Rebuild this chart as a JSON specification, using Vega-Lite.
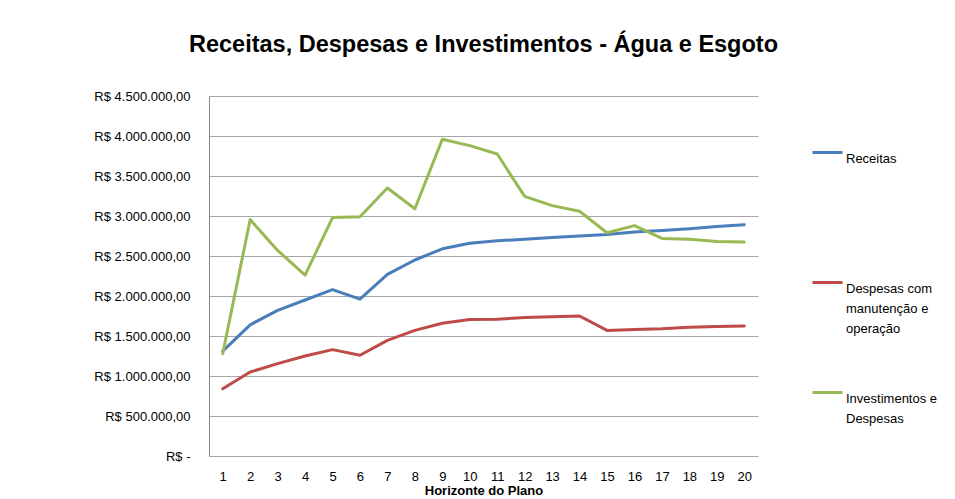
{
  "$schema": "https://vega.github.io/schema/vega-lite/v6.json",
  "autosize": "none",
  "width": 549,
  "height": 360,
  "padding": {"left": 209, "top": 96, "right": 197, "bottom": 43},
  "background": "white",
  "config": {
    "locale": {"number": {"decimal": ",", "thousands": ".", "grouping": [3], "currency": ["R$ ", ""]}},
    "view": {"stroke": null},
    "font": "Liberation Sans",
    "style": {"guide-label": {"lineHeight": 20}}
  },
  "title": {
    "text": "Receitas, Despesas e Investimentos - Água e Esgoto",
    "font": "Liberation Sans",
    "fontSize": 23.5,
    "fontWeight": "bold",
    "color": "#000000",
    "anchor": "middle",
    "offset": 34
  },
  "data": {
    "values": [
      {"ano": 1, "serie": "Receitas", "valor": 1310000},
      {"ano": 2, "serie": "Receitas", "valor": 1640000},
      {"ano": 3, "serie": "Receitas", "valor": 1820000},
      {"ano": 4, "serie": "Receitas", "valor": 1950000},
      {"ano": 5, "serie": "Receitas", "valor": 2080000},
      {"ano": 6, "serie": "Receitas", "valor": 1960000},
      {"ano": 7, "serie": "Receitas", "valor": 2270000},
      {"ano": 8, "serie": "Receitas", "valor": 2450000},
      {"ano": 9, "serie": "Receitas", "valor": 2590000},
      {"ano": 10, "serie": "Receitas", "valor": 2660000},
      {"ano": 11, "serie": "Receitas", "valor": 2690000},
      {"ano": 12, "serie": "Receitas", "valor": 2710000},
      {"ano": 13, "serie": "Receitas", "valor": 2730000},
      {"ano": 14, "serie": "Receitas", "valor": 2750000},
      {"ano": 15, "serie": "Receitas", "valor": 2770000},
      {"ano": 16, "serie": "Receitas", "valor": 2800000},
      {"ano": 17, "serie": "Receitas", "valor": 2820000},
      {"ano": 18, "serie": "Receitas", "valor": 2840000},
      {"ano": 19, "serie": "Receitas", "valor": 2870000},
      {"ano": 20, "serie": "Receitas", "valor": 2890000},
      {"ano": 1, "serie": "Despesas com manutenção e operação", "valor": 840000},
      {"ano": 2, "serie": "Despesas com manutenção e operação", "valor": 1050000},
      {"ano": 3, "serie": "Despesas com manutenção e operação", "valor": 1155000},
      {"ano": 4, "serie": "Despesas com manutenção e operação", "valor": 1250000},
      {"ano": 5, "serie": "Despesas com manutenção e operação", "valor": 1330000},
      {"ano": 6, "serie": "Despesas com manutenção e operação", "valor": 1260000},
      {"ano": 7, "serie": "Despesas com manutenção e operação", "valor": 1445000},
      {"ano": 8, "serie": "Despesas com manutenção e operação", "valor": 1570000},
      {"ano": 9, "serie": "Despesas com manutenção e operação", "valor": 1660000},
      {"ano": 10, "serie": "Despesas com manutenção e operação", "valor": 1705000},
      {"ano": 11, "serie": "Despesas com manutenção e operação", "valor": 1710000},
      {"ano": 12, "serie": "Despesas com manutenção e operação", "valor": 1730000},
      {"ano": 13, "serie": "Despesas com manutenção e operação", "valor": 1740000},
      {"ano": 14, "serie": "Despesas com manutenção e operação", "valor": 1750000},
      {"ano": 15, "serie": "Despesas com manutenção e operação", "valor": 1570000},
      {"ano": 16, "serie": "Despesas com manutenção e operação", "valor": 1580000},
      {"ano": 17, "serie": "Despesas com manutenção e operação", "valor": 1590000},
      {"ano": 18, "serie": "Despesas com manutenção e operação", "valor": 1610000},
      {"ano": 19, "serie": "Despesas com manutenção e operação", "valor": 1620000},
      {"ano": 20, "serie": "Despesas com manutenção e operação", "valor": 1625000},
      {"ano": 1, "serie": "Investimentos e Despesas", "valor": 1280000},
      {"ano": 2, "serie": "Investimentos e Despesas", "valor": 2955000},
      {"ano": 3, "serie": "Investimentos e Despesas", "valor": 2570000},
      {"ano": 4, "serie": "Investimentos e Despesas", "valor": 2260000},
      {"ano": 5, "serie": "Investimentos e Despesas", "valor": 2980000},
      {"ano": 6, "serie": "Investimentos e Despesas", "valor": 2990000},
      {"ano": 7, "serie": "Investimentos e Despesas", "valor": 3350000},
      {"ano": 8, "serie": "Investimentos e Despesas", "valor": 3090000},
      {"ano": 9, "serie": "Investimentos e Despesas", "valor": 3960000},
      {"ano": 10, "serie": "Investimentos e Despesas", "valor": 3880000},
      {"ano": 11, "serie": "Investimentos e Despesas", "valor": 3775000},
      {"ano": 12, "serie": "Investimentos e Despesas", "valor": 3245000},
      {"ano": 13, "serie": "Investimentos e Despesas", "valor": 3130000},
      {"ano": 14, "serie": "Investimentos e Despesas", "valor": 3060000},
      {"ano": 15, "serie": "Investimentos e Despesas", "valor": 2790000},
      {"ano": 16, "serie": "Investimentos e Despesas", "valor": 2880000},
      {"ano": 17, "serie": "Investimentos e Despesas", "valor": 2720000},
      {"ano": 18, "serie": "Investimentos e Despesas", "valor": 2710000},
      {"ano": 19, "serie": "Investimentos e Despesas", "valor": 2680000},
      {"ano": 20, "serie": "Investimentos e Despesas", "valor": 2675000}
    ]
  },
  "mark": {"type": "line", "strokeWidth": 3, "strokeCap": "round", "strokeJoin": "round"},
  "encoding": {
    "x": {
      "field": "ano",
      "type": "ordinal",
      "scale": {"paddingInner": 0, "paddingOuter": 0},
      "axis": {
        "title": "Horizonte do Plano",
        "titleFont": "Liberation Sans",
        "titleFontSize": 13,
        "titleFontWeight": "bold",
        "titleColor": "#000000",
        "titlePadding": 1,
        "labelAngle": 0,
        "labelFontSize": 13,
        "labelColor": "#000000",
        "labelPadding": 14,
        "ticks": false,
        "domain": false,
        "grid": false
      }
    },
    "y": {
      "field": "valor",
      "type": "quantitative",
      "scale": {"domain": [0, 4500000], "nice": false},
      "axis": {
        "title": null,
        "values": [0, 500000, 1000000, 1500000, 2000000, 2500000, 3000000, 3500000, 4000000, 4500000],
        "format": "$,.2f",
        "labelExpr": "datum.value == 0 ? 'R$ -\u00a0\u00a0\u00a0' : datum.label",
        "labelFontSize": 13,
        "labelColor": "#000000",
        "labelPadding": 19,
        "ticks": false,
        "domain": true,
        "domainColor": "#868686",
        "grid": true,
        "gridColor": "#a6a6a6",
        "gridWidth": 1
      }
    },
    "color": {
      "field": "serie",
      "type": "nominal",
      "scale": {
        "domain": ["Receitas", "Despesas com manutenção e operação", "Investimentos e Despesas"],
        "range": ["#4a7ebb", "#be4b48", "#98b954"]
      },
      "legend": {
        "title": null,
        "orient": "none",
        "legendX": 602,
        "legendY": 40,
        "symbolType": "stroke",
        "symbolSize": 900,
        "symbolStrokeWidth": 3,
        "labelOffset": 2,
        "labelFontSize": 13,
        "labelColor": "#000000",
        "labelLimit": 200,
        "labelBaseline": "top",
        "rowPadding": 40,
        "labelExpr": "datum.label == 'Receitas' ? ['Receitas', '\u00a0', '\u00a0', '\u00a0'] : (datum.label == 'Investimentos e Despesas' ? ['Investimentos e', 'Despesas'] : ['Despesas com', 'manutenção e', 'operação'])"
      }
    }
  }
}
